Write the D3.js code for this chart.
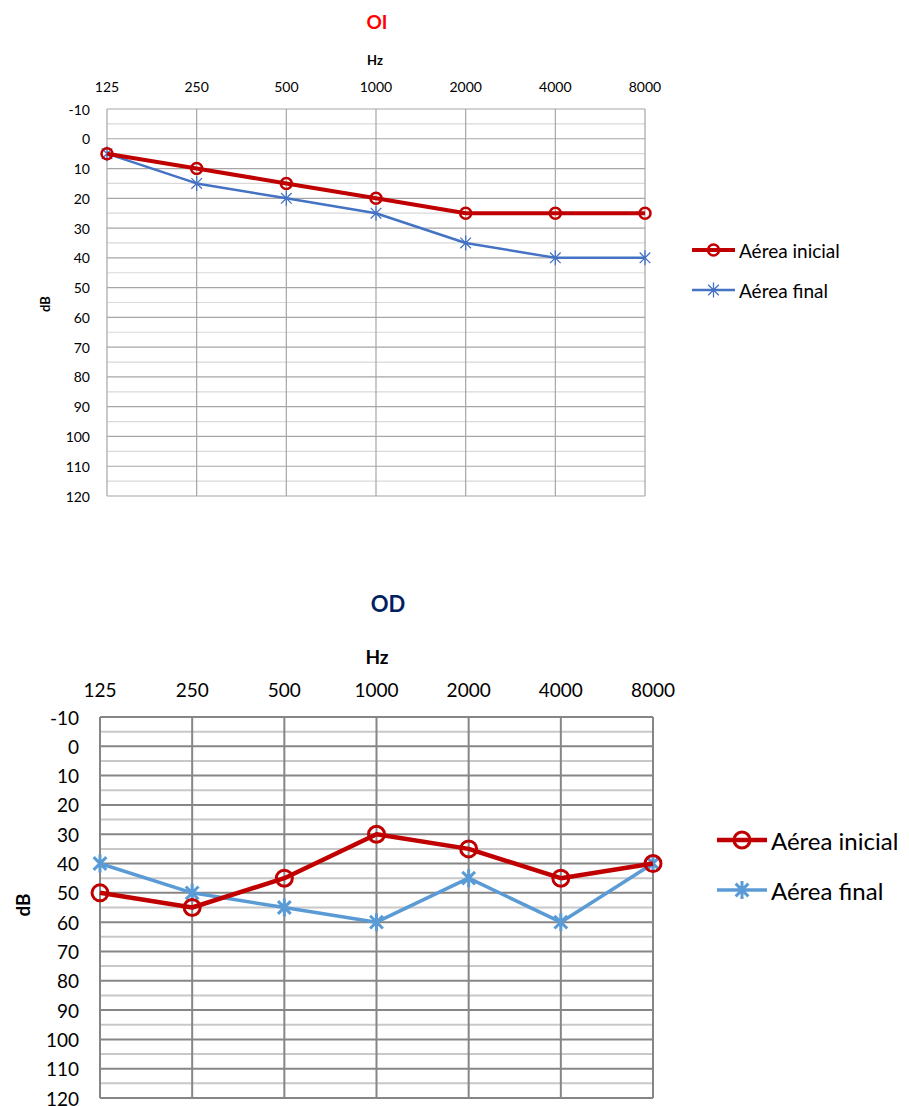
<!DOCTYPE html>
<html>
<head>
<meta charset="utf-8">
<script src="https://cdn.jsdelivr.net/npm/d3@7/dist/d3.min.js"></script>
<style>
  html, body { margin: 0; padding: 0; background: #fff; }
  svg { display: block; }
  text { font-family: Lato, "Open Sans", "Liberation Sans", sans-serif; }
</style>
</head>
<body>
<svg id="chart" width="909" height="1106"></svg>
<script>
// Audiometry: hearing thresholds per frequency, left (OI) and right (OD) ear
const frequencies = ["125", "250", "500", "1000", "2000", "4000", "8000"];
const dbTicks = [-10, 0, 10, 20, 30, 40, 50, 60, 70, 80, 90, 100, 110, 120];
const dbMinorTicks = [-5, 5, 15, 25, 35, 45, 55, 65, 75, 85, 95, 105, 115];
const seriesNames = ["Aérea inicial", "Aérea final"];

const oiInicial = [5, 10, 15, 20, 25, 25, 25];
const oiFinal   = [5, 15, 20, 25, 35, 40, 40];
const odInicial = [50, 55, 45, 30, 35, 45, 40];
const odFinal   = [40, 50, 55, 60, 45, 60, 40];

const svg = d3.select("#chart");

function drawAudiogram(cfg) {
  const g = svg.append("g");
  const x = d3.scalePoint().domain(frequencies).range([cfg.left, cfg.right]);
  const y = d3.scaleLinear().domain([-10, 120]).range([cfg.top, cfg.bottom]);

  // minor grid (every 5 dB)
  g.selectAll(".minor").data(dbMinorTicks).join("line")
    .attr("x1", cfg.left).attr("x2", cfg.right)
    .attr("y1", d => y(d)).attr("y2", d => y(d))
    .attr("stroke", cfg.minorColor).attr("stroke-width", cfg.gridWidth);

  // major grid (every 10 dB)
  g.selectAll(".major").data(dbTicks).join("line")
    .attr("x1", cfg.left).attr("x2", cfg.right)
    .attr("y1", d => y(d)).attr("y2", d => y(d))
    .attr("stroke", cfg.majorColor).attr("stroke-width", cfg.gridWidth);

  // vertical grid at each frequency
  g.selectAll(".vgrid").data(frequencies).join("line")
    .attr("x1", d => x(d)).attr("x2", d => x(d))
    .attr("y1", cfg.top).attr("y2", cfg.bottom)
    .attr("stroke", cfg.majorColor).attr("stroke-width", cfg.gridWidth);

  // frequency labels along the top
  g.selectAll(".xlab").data(frequencies).join("text")
    .attr("x", d => x(d)).attr("y", cfg.xLabelY)
    .attr("text-anchor", "middle").attr("dominant-baseline", "central")
    .attr("font-size", cfg.tickSize).attr("fill", "#000")
    .text(d => d);

  // dB labels on the left
  g.selectAll(".ylab").data(dbTicks).join("text")
    .attr("x", cfg.yLabelX).attr("y", d => y(d))
    .attr("text-anchor", "end").attr("dominant-baseline", "central")
    .attr("font-size", cfg.tickSize).attr("fill", "#000")
    .text(d => d);

  // title and axis names
  g.append("text").attr("x", cfg.titleX).attr("y", cfg.titleY)
    .attr("text-anchor", "middle").attr("dominant-baseline", "central")
    .attr("font-size", cfg.titleSize).attr("font-weight", "bold")
    .attr("fill", cfg.titleColor).text(cfg.title);
  g.append("text").attr("x", cfg.hzX).attr("y", cfg.hzY)
    .attr("text-anchor", "middle").attr("dominant-baseline", "central")
    .attr("font-size", cfg.axisTitleSize).attr("font-weight", "bold")
    .attr("fill", "#000").text("Hz");
  g.append("text")
    .attr("transform", `translate(${cfg.dbX},${cfg.dbY}) rotate(-90)`)
    .attr("text-anchor", "middle").attr("dominant-baseline", "central")
    .attr("font-size", cfg.axisTitleSize).attr("font-weight", "bold")
    .attr("fill", "#000").text("dB");

  const line = d3.line().x((d, i) => x(frequencies[i])).y(d => y(d));

  const series = [
    { name: seriesNames[0], values: cfg.inicial, color: cfg.redColor, width: cfg.redWidth, marker: "circle" },
    { name: seriesNames[1], values: cfg.final, color: cfg.blueColor, width: cfg.blueWidth, marker: "star" }
  ];

  function drawMarker(sel, s, cx, cy) {
    if (s.marker === "circle") {
      sel.append("circle").attr("cx", cx).attr("cy", cy).attr("r", cfg.circleR)
        .attr("fill", "none").attr("stroke", s.color).attr("stroke-width", cfg.circleStroke);
    } else {
      const r = cfg.starR;
      const d = r * Math.SQRT1_2;
      sel.append("path")
        .attr("d", `M${cx - d},${cy - d}L${cx + d},${cy + d}M${cx - d},${cy + d}L${cx + d},${cy - d}M${cx},${cy - r}L${cx},${cy + r}`)
        .attr("stroke", s.color).attr("stroke-width", cfg.starStroke).attr("fill", "none");
    }
  }

  // final series first, initial series drawn on top
  [series[1], series[0]].forEach(s => {
    g.append("path").datum(s.values).attr("d", line)
      .attr("fill", "none").attr("stroke", s.color).attr("stroke-width", s.width)
      .attr("stroke-linejoin", "round");
    const mg = g.append("g");
    s.values.forEach((v, i) => drawMarker(mg, s, x(frequencies[i]), y(v)));
  });

  // legend
  series.forEach((s, i) => {
    const ly = cfg.legendY + i * cfg.legendGap;
    g.append("line").attr("x1", cfg.legendX).attr("x2", cfg.legendX + cfg.legendLen)
      .attr("y1", ly).attr("y2", ly).attr("stroke", s.color).attr("stroke-width", s.width);
    drawMarker(g, s, cfg.legendX + cfg.legendLen / 2, ly);
    g.append("text").attr("x", cfg.legendX + cfg.legendLen + 4).attr("y", ly)
      .attr("dominant-baseline", "central").attr("font-size", cfg.legendSize)
      .attr("fill", "#000").text(s.name);
  });
}

// Left ear
drawAudiogram({
  title: "OI", titleColor: "#FF0000", titleX: 377, titleY: 21, titleSize: 19,
  hzX: 375, hzY: 60, dbX: 45, dbY: 304, axisTitleSize: 13,
  left: 107, right: 645, top: 109, bottom: 496,
  xLabelY: 86, yLabelX: 90, tickSize: 14,
  majorColor: "#a6a6a6", minorColor: "#d9d9d9", gridWidth: 1.2,
  inicial: oiInicial, final: oiFinal,
  redColor: "#C00000", redWidth: 4, blueColor: "#4472C4", blueWidth: 2.5,
  circleR: 5.5, circleStroke: 2.5, starR: 7.5, starStroke: 1.3,
  legendX: 692, legendLen: 43, legendY: 250, legendGap: 40, legendSize: 19
});

// Right ear
drawAudiogram({
  title: "OD", titleColor: "#002060", titleX: 388, titleY: 603, titleSize: 22,
  hzX: 377, hzY: 656, dbX: 22, dbY: 905, axisTitleSize: 19,
  left: 100, right: 653, top: 717, bottom: 1098,
  xLabelY: 689, yLabelX: 79, tickSize: 19,
  majorColor: "#868686", minorColor: "#c8c8c8", gridWidth: 2,
  inicial: odInicial, final: odFinal,
  redColor: "#C00000", redWidth: 4.5, blueColor: "#5B9BD5", blueWidth: 3.5,
  circleR: 8, circleStroke: 3, starR: 9, starStroke: 3,
  legendX: 717, legendLen: 50, legendY: 840, legendGap: 50, legendSize: 24
});
</script>
</body>
</html>
